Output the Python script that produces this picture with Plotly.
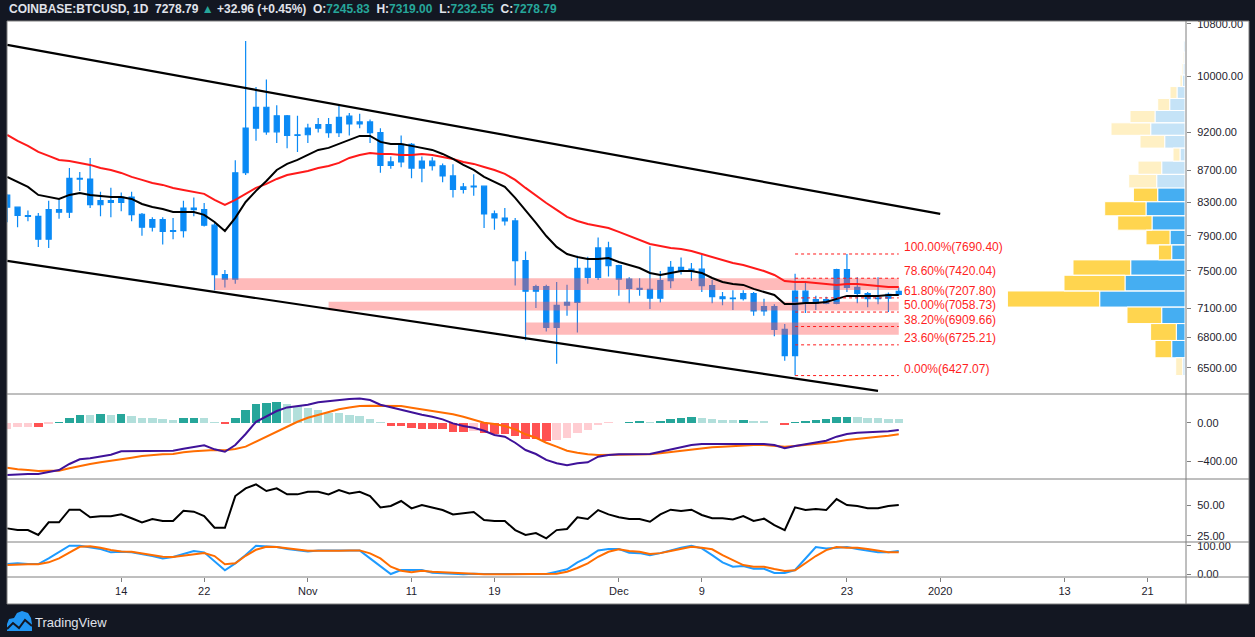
import math
import numpy as np
import pandas as pd
import plotly.graph_objects as go

# ---------------- data ----------------
dates = pd.date_range("2019-10-03", periods=87, freq="D")

opens = [8390, 8240, 8140, 8130, 7860, 8210, 8180, 8600, 8590, 8270,
         8320, 8300, 8365, 8155, 8000, 8090, 7950, 7960, 8230, 8210,
         8025, 7460, 7410, 8670, 9260, 9550, 9210, 9430, 9160, 9170,
         9260, 9310, 9200, 9425, 9320, 9345, 9200, 8765, 8810, 9040,
         8730, 8820, 8760, 8630, 8460, 8490, 8500, 8160, 8110, 8075,
         7615, 7280, 7330, 6900, 7130, 7160, 7530, 7430, 7760, 7560,
         7410, 7310, 7300, 7205, 7395, 7540, 7505, 7520, 7340, 7220,
         7205, 7200, 7255, 7070, 7115, 6880, 6620, 7280, 7150, 7190,
         7150, 7515, 7320, 7255, 7200, 7205, 7245.83]
highs = [8400, 8250, 8200, 8170, 8320, 8330, 8730, 8680, 8860, 8430,
         8480, 8420, 8430, 8170, 8120, 8120, 8110, 8320, 8360, 8290,
         8050, 7510, 8830, 10530, 9840, 9950, 9580, 9440, 9430, 9320,
         9400, 9400, 9590, 9470, 9460, 9380, 9260, 8880, 9160, 9060,
         8880, 8870, 8790, 8780, 8540, 8650, 8510, 8200, 8230, 8110,
         7720, 7350, 7350, 7380, 7350, 7670, 7660, 7880, 7830, 7570,
         7430, 7420, 7780, 7500, 7610, 7650, 7590, 7680, 7400, 7270,
         7290, 7290, 7270, 7200, 7140, 6935, 7470, 7380, 7230, 7220,
         7525, 7690.40, 7430, 7270, 7430, 7265, 7319.00]
lows = [8060, 8000, 8070, 7770, 7760, 8100, 8110, 8440, 8230, 8130,
        8120, 8190, 8070, 7900, 7950, 7800, 7860, 7880, 8130, 8010,
        7290, 7320, 7360, 8640, 9090, 9170, 9060, 8990, 8940, 9060,
        9200, 9130, 9140, 9160, 9260, 9060, 8670, 8720, 8740, 8600,
        8550, 8700, 8550, 8360, 8410, 8380, 7990, 7970, 8020, 7340,
        6770, 7100, 6860, 6540, 7020, 6850, 7360, 7400, 7440, 7230,
        7150, 7230, 7090, 7160, 7310, 7460, 7390, 7270, 7150, 7130,
        7080, 7180, 7020, 7020, 6810, 6570, 6427.07, 7050, 7080, 7140,
        7140, 7270, 7150, 7110, 7140, 7060, 7232.55]
closes = [8240, 8140, 8130, 7860, 8210, 8180, 8600, 8590, 8270, 8320,
          8300, 8365, 8150, 8000, 8090, 7950, 7960, 8230, 8210, 8025,
          7460, 7410, 8670, 9260, 9550, 9210, 9430, 9160, 9170, 9260,
          9310, 9200, 9410, 9320, 9345, 9200, 8765, 8810, 9040, 8730,
          8820, 8760, 8630, 8460, 8490, 8500, 8160, 8110, 8075, 7615,
          7280, 7330, 6900, 7130, 7160, 7530, 7430, 7760, 7560, 7410,
          7310, 7300, 7205, 7395, 7540, 7505, 7520, 7340, 7220, 7200,
          7200, 7255, 7070, 7115, 6880, 6620, 7280, 7150, 7190, 7150,
          7515, 7320, 7255, 7200, 7205, 7245.83, 7278.79]

ma_fast = [8617, 8554, 8491, 8391, 8366, 8341, 8391, 8416, 8391, 8379,
           8366, 8366, 8341, 8280, 8243, 8219, 8183, 8183, 8183, 8147,
           8063, 7956, 8111, 8304, 8441, 8566, 8706, 8784, 8836, 8901,
           8967, 8994, 9047, 9101, 9155, 9155, 9074, 9047, 9047, 9021,
           8994, 8967, 8914, 8849, 8771, 8706, 8617, 8554, 8491, 8354,
           8207, 8051, 7897, 7771, 7690, 7656, 7634, 7634, 7645, 7600,
           7567, 7533, 7478, 7456, 7478, 7500, 7500, 7478, 7423, 7379,
           7358, 7347, 7304, 7271, 7239, 7143, 7143, 7154, 7154, 7165,
           7196, 7229, 7229, 7229, 7229, 7239, 7239]
ma_slow = [9168, 9088, 9021, 8941, 8888, 8836, 8823, 8797, 8771, 8732,
           8706, 8668, 8617, 8579, 8541, 8516, 8478, 8453, 8428, 8404,
           8329, 8268, 8329, 8404, 8478, 8529, 8591, 8642, 8668, 8693,
           8732, 8758, 8797, 8862, 8901, 8927, 8914, 8914, 8901, 8901,
           8914, 8901, 8875, 8849, 8810, 8784, 8745, 8706, 8655, 8579,
           8478, 8379, 8292, 8207, 8123, 8075, 8039, 8015, 7991, 7945,
           7898, 7851, 7805, 7782, 7759, 7748, 7725, 7690, 7656, 7623,
           7589, 7567, 7533, 7500, 7456, 7390, 7379, 7379, 7368, 7358,
           7347, 7358, 7358, 7347, 7336, 7325, 7325]

macd_line = [-546, -539, -537, -536, -518, -494, -431, -382, -372, -355,
             -334, -299, -299, -299, -299, -299, -292, -271, -250, -236,
             -278, -303, -233, -118, 10, 63, 122, 160, 174, 188,
             213, 226, 237, 247, 254, 237, 188, 160, 140, 104,
             83, 63, 35, -7, -35, -52, -84, -128, -146, -209,
             -285, -327, -389, -424, -445, -424, -414, -355, -337, -330,
             -327, -327, -327, -303, -278, -257, -233, -222, -222, -222,
             -222, -215, -222, -222, -233, -267, -243, -222, -205, -188,
             -146, -118, -104, -100, -100, -90, -76]
macd_signal = [-470, -487, -495, -504, -503, -501, -476, -452, -431, -414,
               -400, -379, -365, -348, -337, -330, -327, -309, -299, -292,
               -285, -288, -275, -250, -198, -146, -94, -34, 10, 52,
               80, 115, 140, 160, 174, 177, 177, 177, 174, 157,
               140, 125, 109, 88, 63, 35, 0, -14, -34, -69,
               -121, -157, -209, -250, -292, -313, -330, -337, -337, -337,
               -337, -337, -330, -320, -306, -292, -278, -267, -257, -250,
               -243, -236, -233, -233, -240, -250, -243, -233, -222, -209,
               -198, -181, -167, -153, -146, -136, -121]
macd_hist = [-70, -42, -40, -44, -13, 7, 49, 84, 80, 86,
             82, 86, 70, 49, 47, 38, 28, 49, 50, 47,
             7, -13, 49, 132, 195, 205, 216, 195, 174, 157,
             132, 106, 104, 84, 70, 38, 2, -31, -33, -52,
             -64, -66, -70, -92, -94, -90, -104, -115, -117, -136,
             -165, -167, -188, -181, -157, -104, -77, -24, -2, 0,
             7, 8, 5, 17, 38, 49, 59, 49, 38, 28,
             27, 29, 17, 16, 0, -21, 7, 17, 28, 38,
             59, 62, 59, 49, 47, 38, 37]

rsi = [31.0, 29.6, 29.6, 25.6, 35.9, 35.9, 46.2, 46.2, 40.0, 40.8,
       40.8, 42.4, 39.2, 35.9, 38.6, 37.0, 37.0, 45.4, 44.6, 41.0,
       31.5, 31.5, 57.3, 63.6, 66.8, 61.4, 63.6, 58.7, 58.7, 60.8,
       60.8, 58.7, 62.2, 59.5, 60.8, 57.3, 48.1, 49.2, 53.3, 47.3,
       50.0, 48.1, 45.9, 42.4, 43.5, 44.3, 37.8, 37.0, 37.0, 29.6,
       25.6, 27.2, 22.9, 29.6, 30.5, 40.0, 38.6, 45.9, 42.4, 40.0,
       38.6, 38.6, 36.4, 42.4, 46.2, 45.1, 46.2, 41.9, 39.2, 39.2,
       38.3, 41.0, 37.0, 38.9, 33.7, 29.6, 48.1, 45.9, 46.7, 45.9,
       54.9, 50.0, 49.2, 47.3, 47.3, 49.2, 50.0]

stoch_k = [35.9, 38.3, 35.9, 35.9, 55.7, 76.7, 100, 100, 95.1, 88.2,
           76.7, 78.7, 76.7, 70.7, 63.8, 55.7, 60.3, 70.7, 81.2, 76.7,
           43.9, 13.9, 38.3, 67.2, 100, 97.6, 95.1, 88.2, 83.6, 80.1,
           83.6, 83.6, 83.6, 83.6, 83.6, 55.7, 27.9, 1, 15, 15,
           15, 5.6, 5, 2, 0, 2, 1, 1, 1, 1,
           1, 1, 1, 9, 17.4, 41.8, 59.2, 83.6, 88.2, 88.2,
           75.3, 74, 66.9, 74, 84.7, 92.7, 100, 90.6, 66.9, 41.8,
           26.5, 28.7, 19.5, 19.5, 4.6, 4.6, 15, 55.7, 95, 90.6,
           92.7, 95, 88.2, 81.2, 76.7, 76.7, 81.2]
stoch_d = [32.4, 35, 35, 35, 41.8, 55.7, 76.7, 96.2, 97.9, 92.7,
           84.7, 80.1, 78.7, 73.2, 66.9, 61.3, 60.3, 64.8, 70.7, 74.2,
           63.8, 35, 38.3, 64.8, 85.7, 96, 95, 90.6, 85.7, 82,
           82, 81.2, 82, 83.6, 83.6, 73.2, 55.7, 26.5, 12.5, 7,
           12.5, 9.1, 7, 4, 2, 0, 0, 0, 0, 0,
           0, 0, 0, 2, 9, 22, 38.3, 61.3, 78.7, 87.4,
           81.2, 78.7, 70.7, 74, 81.2, 88.2, 96.2, 92.7, 87.4, 66.9,
           49.8, 32.4, 26.5, 26.5, 18.3, 11.3, 13.9, 38.3, 63.8, 84.7,
           95, 92.7, 92.7, 88.2, 81.2, 76.7, 76.7]

# volume profile rows, bottom -> top (relative volume)
vp_up = [2.3, 13.3, 8.7, 23.3, 85.3, 60, 54.3, 13.3, 15, 33, 39, 27.3,
         28.3, 23.3, 5, 20.3, 34.3, 30, 15.3, 8, 2.7, 2, 1, 1.3]
vp_down = [7.0, 16.7, 25.7, 34.7, 92.3, 61, 57.7, 13.3, 24, 34.3, 41.3, 24.3,
           28, 23.7, 7, 24.7, 39.7, 25, 12, 7, 2.3, 1.3, 1, 0]
vp_value_area_rows = (1, 11)

# drawings
channel_upper_dates = ["2019-10-03", "2020-01-01"]
channel_upper_prices = [10470, 8160]
channel_lower_dates = ["2019-10-03", "2019-12-26"]
channel_lower_prices = [7612, 6284]

zone_start = ["2019-10-23", "2019-11-03", "2019-11-22"]
zone_end = ["2019-12-28", "2019-12-28", "2019-12-28"]
zone_low = [7293, 7075, 6825]
zone_high = [7420, 7168, 6950]

fib_ratios = [1.0, 0.786, 0.618, 0.5, 0.382, 0.236, 0.0]
fib_low_date = "2019-12-18"
fib_end_date = "2019-12-28"

tick_dates = ["2019-10-14", "2019-10-22", "2019-11-01", "2019-11-11", "2019-11-19",
              "2019-12-01", "2019-12-09", "2019-12-23", "2020-01-01", "2020-01-13",
              "2020-01-21"]
tick_text = ["14", "22", "Nov", "11", "19", "Dec", "9", "23", "2020", "13", "21"]

price_ticks = [6500, 6800, 7100, 7500, 7900, 8300, 8700, 9200, 10000, 10800]

# ---------------- styling ----------------
W, H = 1255, 637
L, R, T, B = 7, 1186, 21, 577
DARK = "#131722"
GREY = "#7f7f7f"
CANDLE = "#0a8af5"
TXT = "#1e222d"
FONT = "Liberation Sans"
RED_TXT = "#ff1f1f"


def px(x):
    return (x - L) / (R - L)


def py(y):
    return (B - y) / (B - T)


fig = go.Figure()

# volume profile (overlay axis x2)
n_rows = len(vp_up)
vp_low, vp_high = min(lows), max(highs)
step = (vp_high - vp_low) / n_rows
groups = {"up_va": ([], []), "dn_va": ([], []), "up": ([], []), "dn": ([], [])}
for k in range(n_rows):
    lo = vp_low + k * step
    hi = lo + step
    in_va = vp_value_area_rows[0] <= k <= vp_value_area_rows[1]
    for key, a, b in (("up", 0, vp_up[k]), ("dn", vp_up[k], vp_up[k] + vp_down[k])):
        if b - a <= 0:
            continue
        g = groups[key + ("_va" if in_va else "")]
        g[0].extend([a, b, b, a, a, None])
        g[1].extend([lo, lo, hi, hi, lo, None])
vp_colors = {"up_va": "#45aef2", "dn_va": "#ffd54f", "up": "#c5e3f7", "dn": "#fff0c4"}
for key, (xs, ys) in groups.items():
    fig.add_trace(go.Scatter(x=xs, y=ys, xaxis="x2", yaxis="y", mode="lines",
                             fill="toself", fillcolor=vp_colors[key],
                             line=dict(color="white", width=1), hoverinfo="skip"))

# candles
fig.add_trace(go.Candlestick(
    x=dates, open=opens, high=highs, low=lows, close=closes,
    increasing=dict(line=dict(color=CANDLE, width=1.2), fillcolor=CANDLE),
    decreasing=dict(line=dict(color=CANDLE, width=1.2), fillcolor=CANDLE),
    whiskerwidth=0, xaxis="x", yaxis="y", hoverinfo="skip"))

# zones (semi-transparent, above candles)
zx, zy = [], []
for s, e, lo, hi in zip(zone_start, zone_end, zone_low, zone_high):
    zx.extend([s, e, e, s, s, None])
    zy.extend([lo, lo, hi, hi, lo, None])
fig.add_trace(go.Scatter(x=zx, y=zy, mode="lines", fill="toself",
                         fillcolor="rgba(255,82,82,0.40)", line=dict(width=0),
                         hoverinfo="skip"))

# moving averages
fig.add_trace(go.Scatter(x=dates, y=ma_slow, mode="lines",
                         line=dict(color="#ff1a1a", width=2), hoverinfo="skip"))
fig.add_trace(go.Scatter(x=dates, y=ma_fast, mode="lines",
                         line=dict(color="#000000", width=2), hoverinfo="skip"))

# channel
fig.add_trace(go.Scatter(x=channel_upper_dates, y=channel_upper_prices, mode="lines",
                         line=dict(color="black", width=2.2), hoverinfo="skip"))
fig.add_trace(go.Scatter(x=channel_lower_dates, y=channel_lower_prices, mode="lines",
                         line=dict(color="black", width=2.2), hoverinfo="skip"))

# fibonacci
fib_hi = max(highs[dates.get_loc(pd.Timestamp(fib_low_date)):])
fib_lo = min(lows)
fib_levels = [fib_lo + r * (fib_hi - fib_lo) for r in fib_ratios]
fx, fy = [], []
for lv in fib_levels:
    fx.extend([fib_low_date, fib_end_date, None])
    fy.extend([lv, lv, None])
fig.add_trace(go.Scatter(x=fx, y=fy, mode="lines",
                         line=dict(color="#ff1a1a", width=1, dash="dot"),
                         hoverinfo="skip"))

annotations = []
for r, lv in zip(fib_ratios, fib_levels):
    shown = math.floor(lv * 100 + 1e-6) / 100
    annotations.append(dict(x=fib_end_date, y=np.log10(lv), xref="x", yref="y",
                            text=f"{r*100:.2f}%({shown:.2f})", showarrow=False,
                            xanchor="left", yanchor="bottom", xshift=3, yshift=-2,
                            font=dict(family=FONT, size=12, color=RED_TXT)))

# MACD panel
hist_colors = []
prev = -1e9
for h in macd_hist:
    if h >= 0:
        hist_colors.append("#26a69a" if h > prev else "#b2dfdb")
    else:
        hist_colors.append("#ffcdd2" if h > prev else "#ff5252")
    prev = h
fig.add_trace(go.Bar(x=dates, y=macd_hist, marker=dict(color=hist_colors, line=dict(width=0)),
                     width=0.82 * 86400000, xaxis="x", yaxis="y2", hoverinfo="skip"))
fig.add_trace(go.Scatter(x=dates, y=macd_signal, mode="lines", xaxis="x", yaxis="y2",
                         line=dict(color="#ff6d00", width=2), hoverinfo="skip"))
fig.add_trace(go.Scatter(x=dates, y=macd_line, mode="lines", xaxis="x", yaxis="y2",
                         line=dict(color="#3f1299", width=2), hoverinfo="skip"))

# RSI panel
fig.add_trace(go.Scatter(x=dates, y=rsi, mode="lines", xaxis="x", yaxis="y3",
                         line=dict(color="black", width=2), hoverinfo="skip"))

# Stoch RSI panel
fig.add_trace(go.Scatter(x=dates, y=stoch_k, mode="lines", xaxis="x", yaxis="y4",
                         line=dict(color="#1e9bff", width=2), hoverinfo="skip"))
fig.add_trace(go.Scatter(x=dates, y=stoch_d, mode="lines", xaxis="x", yaxis="y4",
                         line=dict(color="#ff6d00", width=2), hoverinfo="skip"))

# header
chg = closes[-1] - closes[-2]
pct = chg / closes[-2] * 100
teal = "#26a69a"
header = (f"<b>COINBASE:BTCUSD, 1D  {closes[-1]:.2f} <span style='color:{teal}'>▲</span> "
          f"{chg:+.2f} ({pct:+.2f}%)  O:<span style='color:{teal}'>{opens[-1]:.2f}</span>  "
          f"H:<span style='color:{teal}'>{highs[-1]:.2f}</span>  "
          f"L:<span style='color:{teal}'>{lows[-1]:.2f}</span>  "
          f"C:<span style='color:{teal}'>{closes[-1]:.2f}</span></b>")
annotations.append(dict(x=px(7), y=py(9), xref="paper", yref="paper", text=header,
                        showarrow=False, xanchor="left", yanchor="middle",
                        font=dict(family=FONT, size=12, color="#e0e3eb")))
annotations.append(dict(x=px(33), y=py(622.5), xref="paper", yref="paper",
                        text="TradingView", showarrow=False, xanchor="left",
                        yanchor="middle", font=dict(family=FONT, size=13, color="#e0e3eb")))

# frame shapes
shapes = [dict(type="rect", xref="paper", yref="paper", x0=px(7), x1=px(1249),
               y0=py(604), y1=py(21), fillcolor="white", line=dict(width=0), layer="below")]
for yy in (21, 394, 479, 542, 577, 604):
    shapes.append(dict(type="line", xref="paper", yref="paper", x0=px(7), x1=px(1249),
                       y0=py(yy), y1=py(yy), line=dict(color=GREY, width=1), layer="above"))
for xx in (7, 1186, 1249):
    shapes.append(dict(type="line", xref="paper", yref="paper", x0=px(xx), x1=px(xx),
                       y0=py(21), y1=py(604), line=dict(color=GREY, width=1), layer="above"))
# logo
logo = [(7, 631), (7, 624), (9, 619), (14, 618), (17, 613), (22, 611), (28, 613),
        (31, 618), (32, 624), (32, 631)]
path = "M " + " L ".join(f"{px(a):.5f},{py(b):.5f}" for a, b in logo) + " Z"
shapes.append(dict(type="path", xref="paper", yref="paper", path=path,
                   fillcolor="#2196f3", line=dict(width=0), layer="above"))
zig = [(7, 629), (13, 623), (19, 628), (25, 620), (32, 626)]
path2 = "M " + " L ".join(f"{px(a):.5f},{py(b):.5f}" for a, b in zig)
shapes.append(dict(type="path", xref="paper", yref="paper", path=path2,
                   line=dict(color=DARK, width=2), layer="above"))

tickfont = dict(family=FONT, size=11, color=TXT)
yax_common = dict(side="right", ticks="outside", ticklen=4, tickcolor=GREY, showgrid=False,
                  zeroline=False, showline=False, tickfont=tickfont, anchor="x",
                  tickmode="array", fixedrange=True, ticklabelstandoff=4)

fig.update_layout(
    width=W, height=H, autosize=False,
    margin=dict(l=L, r=W - R, t=T, b=H - B, pad=0),
    paper_bgcolor=DARK, plot_bgcolor="white",
    showlegend=False, hovermode=False, bargap=0,
    xaxis=dict(domain=[0, 1], anchor="y4", type="date",
               range=["2019-10-02 23:32", "2020-01-24 16:58"],
               tickmode="array", tickvals=tick_dates, ticktext=tick_text,
               ticks="outside", ticklen=4, tickcolor=GREY, showgrid=False,
               zeroline=False, showline=False, tickfont=tickfont,
               rangeslider=dict(visible=False), fixedrange=True),
    xaxis2=dict(overlaying="x", anchor="y", range=[1178, -1], visible=False,
                fixedrange=True),
    yaxis=dict(domain=[py(394), 1], type="log", range=[3.7962, 4.0353],
               tickvals=price_ticks, ticktext=[f"{v:.2f}" for v in price_ticks],
               **yax_common),
    yaxis2=dict(domain=[py(479), py(394)], range=[-588, 300],
                tickvals=[0, -400], ticktext=["0.00", "\u2212400.00"], **yax_common),
    yaxis3=dict(domain=[py(542), py(479)], range=[19.9, 71.2],
                tickvals=[25, 50], ticktext=["25.00", "50.00"], **yax_common),
    yaxis4=dict(domain=[0, py(542)], range=[-9.4, 112.9],
                tickvals=[0, 100], ticktext=["0.00", "100.00"], **yax_common),
    annotations=annotations, shapes=shapes,
)

fig.write_html("out.html", config={"displayModeBar": False},
               post_script="document.body.style.margin='0';document.body.style.padding='0';"
                           "document.body.style.overflow='hidden';document.body.style.background='#131722';")
